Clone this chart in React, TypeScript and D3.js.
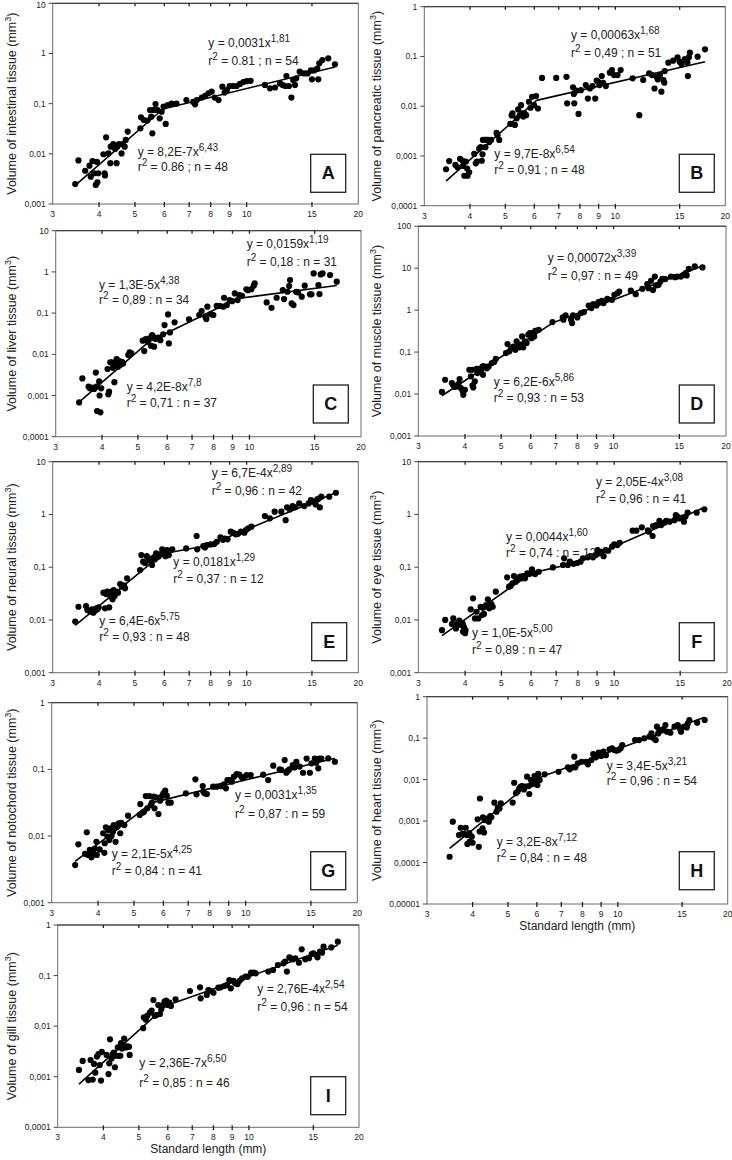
import * as d3 from 'd3';

type Pt = [number, number];

// ── Measured points: [standard length (mm), volume (mm3)] ──

const intestinal: Pt[] = [
  [3.45, 0.0025], [3.52, 0.0074], [3.67, 0.0046], [3.77, 0.0058], [3.8, 0.0035], [3.84, 0.0072],
  [3.88, 0.0041], [3.92, 0.0024], [3.95, 0.0069], [3.96, 0.0027], [3.98, 0.0041], [4.11, 0.0098],
  [4.14, 0.0041], [4.15, 0.0037], [4.18, 0.0213], [4.24, 0.0102], [4.29, 0.0065], [4.3, 0.0139],
  [4.37, 0.0157], [4.42, 0.0125], [4.46, 0.0065], [4.48, 0.0139], [4.53, 0.0157], [4.6, 0.0102],
  [4.64, 0.0157], [4.69, 0.0139], [4.72, 0.0189], [4.78, 0.0277], [5.17, 0.0322], [5.19, 0.0534],
  [5.28, 0.0472], [5.4, 0.046], [5.49, 0.0748], [5.53, 0.055], [5.57, 0.0256], [5.62, 0.075],
  [5.68, 0.0985], [5.74, 0.075], [5.83, 0.051], [5.9, 0.069], [5.97, 0.087], [6.05, 0.0394],
  [6.13, 0.094], [6.27, 0.1], [6.47, 0.1], [6.88, 0.118], [7.18, 0.108], [7.26, 0.097],
  [7.34, 0.118], [7.57, 0.132], [7.73, 0.143], [7.89, 0.161], [8.05, 0.174], [8.2, 0.132],
  [8.4, 0.118], [8.6, 0.218], [8.72, 0.166], [8.85, 0.187], [9.0, 0.225], [9.2, 0.225],
  [9.4, 0.225], [9.6, 0.247], [9.8, 0.27], [10.0, 0.28], [10.25, 0.285], [11.2, 0.236],
  [11.56, 0.202], [11.93, 0.21], [12.3, 0.253], [12.5, 0.236], [12.7, 0.225], [12.8, 0.356],
  [13.0, 0.225], [13.2, 0.132], [13.35, 0.296], [13.5, 0.236], [13.6, 0.32], [13.9, 0.434],
  [14.3, 0.4], [14.6, 0.4], [14.9, 0.46], [15.0, 0.305], [15.2, 0.46], [15.5, 0.5],
  [15.6, 0.305], [15.7, 0.637], [16.0, 0.74], [16.6, 0.8], [17.3, 0.61],
];

const pancreatic: Pt[] = [
  [3.44, 0.00054], [3.51, 0.00079], [3.65, 0.00066], [3.7, 0.00059], [3.76, 0.00087], [3.82, 0.0008],
  [3.83, 0.00063], [3.86, 0.0004], [3.9, 0.00077], [3.93, 0.00056], [3.94, 0.0004], [3.98, 0.00047],
  [4.11, 0.0011], [4.15, 0.00071], [4.18, 0.00077], [4.24, 0.0014], [4.28, 0.0015], [4.31, 0.0008],
  [4.33, 0.00108], [4.34, 0.0021], [4.4, 0.0021], [4.41, 0.0015], [4.43, 0.0021], [4.48, 0.0021],
  [4.52, 0.0019], [4.57, 0.0021], [4.73, 0.0029], [4.76, 0.0026], [4.81, 0.0021], [5.16, 0.0044],
  [5.2, 0.0065], [5.23, 0.0072], [5.31, 0.0042], [5.37, 0.0057], [5.42, 0.0086], [5.48, 0.0066],
  [5.52, 0.0105], [5.56, 0.0072], [5.6, 0.0062], [5.64, 0.0072], [5.7, 0.0066], [5.8, 0.0123],
  [5.86, 0.0093], [5.92, 0.0155], [5.99, 0.0105], [6.07, 0.016], [6.14, 0.009], [6.3, 0.037],
  [6.89, 0.037], [7.35, 0.039], [7.38, 0.0114], [7.66, 0.024], [7.7, 0.0176], [7.72, 0.0114],
  [7.82, 0.0205], [7.93, 0.007], [8.05, 0.021], [8.3, 0.0266], [8.41, 0.0142], [8.52, 0.0227],
  [8.66, 0.0254], [8.81, 0.0142], [8.89, 0.0326], [8.97, 0.031], [9.05, 0.0266], [9.18, 0.0404],
  [9.26, 0.0296], [9.42, 0.0254], [9.66, 0.0471], [9.79, 0.0533], [9.92, 0.0423], [10.14, 0.0423],
  [10.34, 0.0533], [11.15, 0.0363], [11.63, 0.0066], [11.92, 0.0336], [12.38, 0.0457], [12.6, 0.0423],
  [12.8, 0.0227], [12.97, 0.039], [13.07, 0.0346], [13.25, 0.0423], [13.37, 0.0196], [13.54, 0.0336],
  [13.62, 0.0296], [13.65, 0.0509], [13.97, 0.0749], [14.4, 0.0822], [14.8, 0.096], [15.0, 0.0784],
  [15.18, 0.07], [15.5, 0.0887], [15.75, 0.076], [15.8, 0.0404], [15.9, 0.096], [16.0, 0.119],
  [16.8, 0.099], [17.6, 0.139],
];

const liver: Pt[] = [
  [3.47, 0.00068], [3.54, 0.0026], [3.68, 0.00164], [3.71, 0.00149], [3.77, 0.00155], [3.81, 0.00144],
  [3.85, 0.0036], [3.87, 0.00164], [3.88, 0.00042], [3.93, 0.0022], [3.94, 0.001], [3.96, 0.00039],
  [3.98, 0.00149], [4.14, 0.0044], [4.16, 0.00107], [4.18, 0.00124], [4.21, 0.0064], [4.25, 0.0064],
  [4.28, 0.0047], [4.3, 0.0055], [4.32, 0.0021], [4.38, 0.0077], [4.39, 0.0064], [4.42, 0.005],
  [4.44, 0.0069], [4.48, 0.0055], [4.53, 0.0066], [4.56, 0.006], [4.71, 0.0096], [4.75, 0.0111],
  [4.8, 0.0105], [5.15, 0.0214], [5.2, 0.012], [5.25, 0.0235], [5.32, 0.0203], [5.37, 0.0245],
  [5.42, 0.0162], [5.46, 0.0294], [5.5, 0.027], [5.53, 0.0153], [5.58, 0.0235], [5.64, 0.0251],
  [5.69, 0.0255], [5.75, 0.022], [5.85, 0.0305], [5.9, 0.0513], [6.03, 0.093], [6.06, 0.0184],
  [6.1, 0.034], [6.28, 0.0596], [6.87, 0.0705], [7.32, 0.0898], [7.43, 0.112], [7.6, 0.0818],
  [7.65, 0.0715], [7.7, 0.143], [7.86, 0.094], [7.99, 0.09], [8.16, 0.149], [8.3, 0.149],
  [8.5, 0.143], [8.54, 0.236], [8.69, 0.157], [8.83, 0.207], [8.98, 0.195], [9.13, 0.301],
  [9.29, 0.207], [9.4, 0.275], [9.55, 0.264], [9.81, 0.377], [9.91, 0.36], [10.12, 0.38],
  [10.27, 0.462], [10.33, 0.527], [11.13, 0.182], [11.47, 0.135], [11.84, 0.236], [12.3, 0.363],
  [12.4, 0.219], [12.66, 0.33], [12.8, 0.454], [12.87, 0.635], [13.0, 0.172], [13.15, 0.157],
  [13.36, 0.33], [13.53, 0.318], [13.84, 0.25], [14.1, 0.462], [14.57, 0.285], [14.7, 0.285],
  [14.9, 0.92], [15.35, 0.48], [15.45, 0.29], [15.57, 0.87], [15.75, 0.92], [16.5, 0.84],
  [17.2, 0.578],
];

const muscle: Pt[] = [
  [3.47, 0.0112], [3.54, 0.0219], [3.69, 0.0183], [3.72, 0.0161], [3.76, 0.0147], [3.8, 0.0154],
  [3.84, 0.0173], [3.87, 0.0228], [3.9, 0.0139], [3.94, 0.012], [3.96, 0.0096], [4.0, 0.0126],
  [4.11, 0.0379], [4.15, 0.0264], [4.18, 0.0379], [4.19, 0.0161], [4.21, 0.0144], [4.25, 0.02],
  [4.3, 0.0401], [4.32, 0.0316], [4.37, 0.0401], [4.41, 0.0347], [4.46, 0.0456], [4.47, 0.0289],
  [4.5, 0.0456], [4.54, 0.043], [4.58, 0.041], [4.63, 0.0456], [4.72, 0.0547], [4.79, 0.058],
  [4.84, 0.0694], [5.15, 0.0947], [5.2, 0.155], [5.26, 0.104], [5.32, 0.124], [5.39, 0.136],
  [5.46, 0.113], [5.5, 0.18], [5.55, 0.145], [5.6, 0.13], [5.65, 0.15], [5.69, 0.236],
  [5.73, 0.13], [5.79, 0.18], [5.85, 0.165], [5.91, 0.259], [5.97, 0.283], [6.03, 0.215],
  [6.07, 0.283], [6.13, 0.236], [6.17, 0.322], [6.3, 0.34], [6.86, 0.518], [7.31, 0.669],
  [7.34, 0.59], [7.44, 0.746], [7.69, 0.59], [7.74, 0.49], [7.79, 0.746], [8.0, 0.669],
  [8.18, 0.85], [8.33, 0.9], [8.58, 1.29], [8.72, 1.12], [8.82, 1.39], [9.0, 1.29],
  [9.11, 1.55], [9.3, 1.67], [9.4, 1.47], [9.62, 1.86], [9.9, 1.76], [10.05, 2.32],
  [10.25, 2.54], [10.35, 2.78], [11.12, 2.9], [11.46, 2.4], [11.94, 3.22], [12.31, 4.16],
  [12.4, 3.34], [12.6, 5.0], [12.75, 3.0], [12.9, 6.3], [12.98, 3.87], [13.2, 4.0],
  [13.35, 4.8], [13.5, 5.57], [13.76, 5.5], [14.25, 6.3], [14.6, 6.1], [14.8, 6.3],
  [15.15, 6.3], [15.38, 6.9], [15.6, 7.6], [15.7, 6.7], [15.9, 9.6], [16.5, 11.0],
  [17.3, 10.4],
];

const neural: Pt[] = [
  [3.45, 0.0093], [3.52, 0.0178], [3.69, 0.0184], [3.72, 0.0154], [3.77, 0.0149], [3.8, 0.0143],
  [3.83, 0.0159], [3.86, 0.0137], [3.9, 0.0149], [3.93, 0.0166], [3.96, 0.0159], [3.99, 0.0173],
  [4.11, 0.0329], [4.15, 0.0166], [4.18, 0.031], [4.21, 0.0343], [4.26, 0.0173], [4.3, 0.0276],
  [4.32, 0.0343], [4.35, 0.0246], [4.38, 0.0369], [4.41, 0.0288], [4.45, 0.0343], [4.5, 0.0329],
  [4.56, 0.048], [4.61, 0.0427], [4.67, 0.0453], [4.7, 0.0397], [4.76, 0.0614], [5.16, 0.0883],
  [5.2, 0.17], [5.26, 0.127], [5.32, 0.12], [5.38, 0.162], [5.44, 0.147], [5.5, 0.131],
  [5.56, 0.11], [5.62, 0.154], [5.65, 0.14], [5.7, 0.183], [5.74, 0.154], [5.8, 0.162],
  [5.86, 0.177], [5.92, 0.218], [5.98, 0.196], [6.04, 0.162], [6.1, 0.211], [6.17, 0.17],
  [6.3, 0.218], [6.87, 0.227], [7.33, 0.39], [7.36, 0.218], [7.64, 0.252], [7.72, 0.237],
  [7.81, 0.263], [8.0, 0.27], [8.18, 0.275], [8.31, 0.304], [8.5, 0.368], [8.63, 0.33],
  [8.73, 0.35], [8.88, 0.337], [9.06, 0.471], [9.21, 0.45], [9.35, 0.42], [9.48, 0.43],
  [9.65, 0.471], [9.86, 0.45], [9.96, 0.507], [10.1, 0.545], [10.3, 0.586], [11.2, 0.933],
  [11.55, 0.843], [11.9, 1.13], [12.4, 1.13], [12.74, 0.78], [12.85, 1.36], [13.07, 1.24],
  [13.3, 1.44], [13.5, 1.36], [13.86, 1.62], [14.3, 1.44], [14.7, 1.62], [14.9, 1.88],
  [15.1, 1.75], [15.35, 1.55], [15.5, 1.93], [15.65, 2.0], [15.75, 1.36], [15.9, 2.17],
  [16.7, 2.17], [17.4, 2.58],
];

const eye: Pt[] = [
  [3.47, 0.0064], [3.54, 0.01], [3.69, 0.0084], [3.72, 0.0107], [3.78, 0.0069], [3.82, 0.0086],
  [3.86, 0.0097], [3.9, 0.008], [3.94, 0.0086], [3.95, 0.006], [3.97, 0.0074], [4.0, 0.0056],
  [4.01, 0.0064], [4.14, 0.0159], [4.2, 0.0257], [4.25, 0.0107], [4.29, 0.0143], [4.34, 0.0107],
  [4.4, 0.0178], [4.44, 0.0124], [4.46, 0.017], [4.49, 0.013], [4.52, 0.0178], [4.55, 0.0192],
  [4.6, 0.0246], [4.64, 0.0166], [4.7, 0.02], [4.74, 0.0178], [4.83, 0.0343], [5.18, 0.0642],
  [5.24, 0.0427], [5.29, 0.044], [5.35, 0.0494], [5.4, 0.068], [5.46, 0.0531], [5.52, 0.057],
  [5.58, 0.0614], [5.61, 0.066], [5.67, 0.0614], [5.71, 0.068], [5.78, 0.0614], [5.86, 0.0764],
  [5.94, 0.074], [6.03, 0.091], [6.09, 0.0785], [6.15, 0.074], [6.29, 0.082], [6.86, 0.099],
  [7.3, 0.11], [7.35, 0.147], [7.52, 0.11], [7.61, 0.127], [7.65, 0.12], [7.79, 0.116],
  [7.96, 0.12], [8.13, 0.127], [8.25, 0.147], [8.5, 0.154], [8.63, 0.162], [8.78, 0.154],
  [8.93, 0.17], [9.03, 0.211], [9.13, 0.183], [9.23, 0.196], [9.37, 0.162], [9.49, 0.211],
  [9.64, 0.205], [9.87, 0.245], [10.0, 0.271], [10.2, 0.263], [10.34, 0.291], [11.2, 0.492],
  [11.46, 0.492], [11.85, 0.569], [12.3, 0.5], [12.37, 0.471], [12.66, 0.39], [12.7, 0.603],
  [12.93, 0.63], [13.2, 0.76], [13.35, 0.63], [13.63, 0.7], [13.77, 0.76], [14.06, 0.73],
  [14.47, 0.78], [14.6, 0.975], [14.75, 0.91], [14.9, 0.84], [15.2, 0.87], [15.35, 0.73],
  [15.5, 0.91], [15.7, 1.08], [16.6, 1.08], [17.4, 1.25],
];

const notochord: Pt[] = [
  [3.47, 0.00367], [3.54, 0.0075], [3.69, 0.0054], [3.73, 0.0114], [3.76, 0.0052], [3.8, 0.0062],
  [3.84, 0.0048], [3.88, 0.0055], [3.92, 0.0065], [3.96, 0.0082], [3.97, 0.0052], [4.04, 0.0063],
  [4.13, 0.011], [4.16, 0.0056], [4.17, 0.0078], [4.2, 0.0135], [4.24, 0.0098], [4.26, 0.0123],
  [4.29, 0.0087], [4.32, 0.013], [4.35, 0.01], [4.39, 0.0116], [4.41, 0.0146], [4.44, 0.0133],
  [4.46, 0.0082], [4.5, 0.0138], [4.55, 0.0155], [4.59, 0.011], [4.62, 0.0158], [4.71, 0.0146],
  [4.82, 0.0202], [5.18, 0.0207], [5.2, 0.0302], [5.27, 0.0224], [5.32, 0.0231], [5.38, 0.0398],
  [5.43, 0.026], [5.5, 0.0398], [5.55, 0.0292], [5.59, 0.0316], [5.64, 0.0389], [5.68, 0.026],
  [5.74, 0.038], [5.82, 0.0214], [5.88, 0.0339], [5.95, 0.0398], [6.0, 0.0437], [6.07, 0.0479],
  [6.13, 0.0403], [6.19, 0.0316], [6.28, 0.0316], [6.9, 0.0437], [7.32, 0.0708], [7.37, 0.0422],
  [7.66, 0.0562], [7.69, 0.0462], [7.75, 0.0437], [7.86, 0.0427], [8.17, 0.055], [8.35, 0.055],
  [8.53, 0.0562], [8.62, 0.0562], [8.74, 0.0596], [8.85, 0.0519], [8.93, 0.0692], [9.05, 0.0692],
  [9.18, 0.0653], [9.3, 0.0776], [9.46, 0.0851], [9.62, 0.0832], [9.76, 0.0759], [9.9, 0.0759],
  [10.06, 0.0822], [10.32, 0.0822], [11.15, 0.0832], [11.5, 0.0692], [11.87, 0.1135], [12.35, 0.1],
  [12.48, 0.098], [12.74, 0.138], [12.87, 0.089], [13.0, 0.0955], [13.13, 0.1], [13.4, 0.116],
  [13.55, 0.107], [13.7, 0.13], [13.98, 0.11], [14.28, 0.089], [14.6, 0.145], [14.9, 0.089],
  [15.05, 0.123], [15.36, 0.145], [15.5, 0.126], [15.7, 0.1035], [15.8, 0.145], [16.0, 0.145],
  [16.7, 0.146], [17.4, 0.13],
];

const heart: Pt[] = [
  [3.46, 0.000138], [3.53, 0.00097], [3.67, 0.00046], [3.71, 0.00069], [3.75, 0.00049], [3.79, 0.00049],
  [3.83, 0.00069], [3.86, 0.00046], [3.87, 0.00028], [3.92, 0.00051], [3.93, 0.00032], [3.98, 0.00042],
  [4.0, 0.0003], [4.13, 0.0011], [4.16, 0.00024], [4.18, 0.00056], [4.19, 0.0035], [4.26, 0.00067],
  [4.27, 0.00123], [4.3, 0.00053], [4.32, 0.00106], [4.38, 0.00115], [4.43, 0.00097], [4.47, 0.00132],
  [4.5, 0.00123], [4.59, 0.00278], [4.65, 0.00169], [4.69, 0.0021], [4.74, 0.002], [4.78, 0.00268],
  [5.15, 0.0028], [5.2, 0.0084], [5.26, 0.0047], [5.31, 0.0051], [5.37, 0.0062], [5.42, 0.0068],
  [5.47, 0.007], [5.53, 0.0058], [5.59, 0.0068], [5.64, 0.0118], [5.7, 0.007], [5.72, 0.0045],
  [5.78, 0.0098], [5.84, 0.0078], [5.91, 0.0122], [5.96, 0.0098], [6.02, 0.0074], [6.05, 0.0137],
  [6.11, 0.0098], [6.3, 0.0134], [6.88, 0.0155], [7.3, 0.0198], [7.38, 0.0177], [7.52, 0.0198],
  [7.6, 0.0357], [7.65, 0.0198], [7.77, 0.0247], [7.96, 0.027], [8.18, 0.027], [8.28, 0.0234],
  [8.47, 0.0297], [8.56, 0.0414], [8.71, 0.0344], [8.86, 0.0447], [9.0, 0.0373], [9.13, 0.0472],
  [9.28, 0.0389], [9.49, 0.0537], [9.64, 0.0568], [9.78, 0.0518], [9.92, 0.05], [10.04, 0.0518],
  [10.18, 0.0568], [10.28, 0.0683], [11.15, 0.09], [11.43, 0.09], [11.82, 0.099], [12.2, 0.108],
  [12.36, 0.13], [12.53, 0.099], [12.7, 0.09], [12.8, 0.189], [12.9, 0.13], [13.0, 0.157],
  [13.3, 0.163], [13.5, 0.207], [13.63, 0.143], [13.93, 0.135], [14.3, 0.189], [14.6, 0.207],
  [14.82, 0.163], [14.9, 0.143], [15.2, 0.189], [15.45, 0.182], [15.55, 0.227], [15.7, 0.274],
  [16.5, 0.236], [17.3, 0.274],
];

const gill: Pt[] = [
  [3.43, 0.00136], [3.51, 0.00205], [3.64, 0.00086], [3.69, 0.00214], [3.74, 0.00088], [3.77, 0.00179],
  [3.8, 0.0012], [3.84, 0.0025], [3.88, 0.0028], [3.91, 0.0017], [3.94, 0.00084], [3.96, 0.0031],
  [4.08, 0.0027], [4.13, 0.00113], [4.15, 0.00184], [4.17, 0.0055], [4.21, 0.0023], [4.24, 0.0028],
  [4.27, 0.003], [4.3, 0.00154], [4.34, 0.0026], [4.38, 0.0038], [4.41, 0.0026], [4.45, 0.0026],
  [4.47, 0.0046], [4.5, 0.0036], [4.54, 0.0042], [4.56, 0.0057], [4.61, 0.0038], [4.66, 0.004],
  [4.7, 0.0039], [4.72, 0.0027], [5.14, 0.0091], [5.16, 0.015], [5.22, 0.0135], [5.27, 0.0159],
  [5.36, 0.0185], [5.42, 0.0203], [5.48, 0.0329], [5.53, 0.0159], [5.59, 0.0166], [5.65, 0.0262],
  [5.71, 0.0174], [5.76, 0.0215], [5.82, 0.0262], [5.88, 0.0305], [5.94, 0.032], [6.0, 0.0262],
  [6.06, 0.0291], [6.12, 0.025], [6.3, 0.034], [6.9, 0.0496], [7.35, 0.0586], [7.38, 0.0355],
  [7.67, 0.0413], [7.75, 0.0519], [7.84, 0.05], [8.0, 0.0458], [8.25, 0.0577], [8.38, 0.0586],
  [8.56, 0.0622], [8.71, 0.0654], [8.84, 0.0818], [8.92, 0.056], [9.07, 0.079], [9.17, 0.0703],
  [9.31, 0.068], [9.43, 0.079], [9.58, 0.0882], [9.78, 0.0952], [9.93, 0.0952], [10.14, 0.114],
  [10.32, 0.114], [10.44, 0.111], [11.3, 0.12], [11.64, 0.129], [12.0, 0.162], [12.43, 0.175],
  [12.56, 0.188], [12.7, 0.12], [12.9, 0.23], [13.02, 0.22], [13.2, 0.21], [13.4, 0.22],
  [13.7, 0.18], [13.94, 0.33], [14.26, 0.21], [14.6, 0.22], [14.85, 0.267], [15.0, 0.275],
  [15.27, 0.255], [15.4, 0.23], [15.65, 0.297], [15.85, 0.284], [16.0, 0.373], [16.8, 0.36],
  [17.5, 0.468],
];

// ── Regression equations printed on each panel (y = a·x^b), in order of increasing length ──

interface Fit {
  a: number;
  b: number;
}

const intestinalFits: Fit[] = [{ a: 8.2e-7, b: 6.43 }, { a: 0.0031, b: 1.81 }];
const pancreaticFits: Fit[] = [{ a: 9.7e-8, b: 6.54 }, { a: 0.00063, b: 1.68 }];
const liverFits: Fit[] = [{ a: 4.2e-8, b: 7.8 }, { a: 1.3e-5, b: 4.38 }, { a: 0.0159, b: 1.19 }];
const muscleFits: Fit[] = [{ a: 6.2e-6, b: 5.86 }, { a: 0.00072, b: 3.39 }];
const neuralFits: Fit[] = [{ a: 6.4e-6, b: 5.75 }, { a: 0.0181, b: 1.29 }, { a: 6.7e-4, b: 2.89 }];
const eyeFits: Fit[] = [{ a: 1.0e-5, b: 5.0 }, { a: 0.0044, b: 1.6 }, { a: 2.05e-4, b: 3.08 }];
const notochordFits: Fit[] = [{ a: 2.1e-5, b: 4.25 }, { a: 0.0031, b: 1.35 }];
const heartFits: Fit[] = [{ a: 3.2e-8, b: 7.12 }, { a: 3.4e-5, b: 3.21 }];
const gillFits: Fit[] = [{ a: 2.36e-7, b: 6.5 }, { a: 2.76e-4, b: 2.54 }];

const xTicks = [3, 4, 5, 6, 7, 8, 9, 10, 15, 20];

// ── Panel layout ──

interface Note {
  x: number;
  y: number;
  gap: number;
  eq: string;
  exp: string;
  r2: string;
}

interface PanelSpec {
  letter: string;
  title: string;
  data: Pt[];
  fits: Fit[];
  yDomain: [number, number];
  left: number;
  right: number;
  top: number;
  bottom: number;
  titleX: number;
  box: [number, number];
  notes: Note[];
  xTitle?: boolean;
}

const FONT = "Arial, 'Liberation Sans', sans-serif";

const panels: PanelSpec[] = [
  {
    letter: 'A', title: 'Volume of intestinal tissue', data: intestinal, fits: intestinalFits,
    yDomain: [0.001, 10], left: 52.7, right: 358.3, top: 3.3, bottom: 204, titleX: 12, box: [310.7, 154.3],
    notes: [
      { x: 208.3, y: 47.3, gap: 17.7, eq: 'y = 0,0031x', exp: '1,81', r2: ' = 0.81 ; n = 54' },
      { x: 137.7, y: 156, gap: 15, eq: 'y = 8,2E-7x', exp: '6,43', r2: ' = 0.86 ; n = 48' },
    ],
  },
  {
    letter: 'B', title: 'Volume of pancreatic tissue', data: pancreatic, fits: pancreaticFits,
    yDomain: [0.0001, 1], left: 424.3, right: 725.3, top: 6.7, bottom: 205.7, titleX: 377, box: [679.3, 154.3],
    notes: [
      { x: 571, y: 38.5, gap: 18, eq: 'y = 0,00063x', exp: '1,68', r2: ' = 0,49 ; n = 51' },
      { x: 494.3, y: 158.3, gap: 16, eq: 'y = 9,7E-8x', exp: '6,54', r2: ' = 0,91 ; n = 48' },
    ],
  },
  {
    letter: 'C', title: 'Volume of liver tissue', data: liver, fits: liverFits,
    yDomain: [0.0001, 10], left: 55.7, right: 361, top: 230.7, bottom: 436.7, titleX: 12, box: [313.3, 385],
    notes: [
      { x: 246.7, y: 248.3, gap: 17.4, eq: 'y = 0,0159x', exp: '1,19', r2: ' = 0,18 : n = 31' },
      { x: 99, y: 289, gap: 15.2, eq: 'y = 1,3E-5x', exp: '4,38', r2: ' = 0,89 : n = 34' },
      { x: 126.7, y: 391, gap: 15.5, eq: 'y = 4,2E-8x', exp: '7,8', r2: ' = 0,71 : n = 37' },
    ],
  },
  {
    letter: 'D', title: 'Volume of muscle tissue', data: muscle, fits: muscleFits,
    yDomain: [0.001, 100], left: 418.3, right: 726, top: 226.2, bottom: 436, titleX: 377, box: [679.3, 385],
    notes: [
      { x: 547.7, y: 261.7, gap: 18.3, eq: 'y = 0,00072x', exp: '3,39', r2: ' = 0,97 : n = 49' },
      { x: 493.7, y: 385.7, gap: 16.6, eq: 'y = 6,2E-6x', exp: '5,86', r2: ' = 0,93 : n = 53' },
    ],
  },
  {
    letter: 'E', title: 'Volume of neural tissue', data: neural, fits: neuralFits,
    yDomain: [0.001, 10], left: 52.7, right: 358.3, top: 461.7, bottom: 672.7, titleX: 12, box: [311.7, 622.7],
    notes: [
      { x: 211.7, y: 477.3, gap: 17.7, eq: 'y = 6,7E-4x', exp: '2,89', r2: ' = 0,96 : n = 42' },
      { x: 173.3, y: 566, gap: 16.7, eq: 'y = 0,0181x', exp: '1,29', r2: ' = 0,37 : n = 12' },
      { x: 99.3, y: 625, gap: 15.7, eq: 'y = 6,4E-6x', exp: '5,75', r2: ' = 0,93 : n = 48' },
    ],
  },
  {
    letter: 'F', title: 'Volume of eye tissue', data: eye, fits: eyeFits,
    yDomain: [0.001, 10], left: 418.3, right: 727, top: 461.7, bottom: 672.7, titleX: 377, box: [679.3, 622.7],
    notes: [
      { x: 596, y: 486, gap: 17.3, eq: 'y = 2,05E-4x', exp: '3,08', r2: ' = 0,96 : n = 41' },
      { x: 506, y: 540.7, gap: 16, eq: 'y = 0,0044x', exp: '1,60', r2: ' = 0,74 : n = 12' },
      { x: 472, y: 637.3, gap: 16.7, eq: 'y = 1,0E-5x', exp: '5,00', r2: ' = 0,89 : n = 47' },
    ],
  },
  {
    letter: 'G', title: 'Volume of notochord tissue', data: notochord, fits: notochordFits,
    yDomain: [0.001, 1], left: 51.7, right: 357.3, top: 702.7, bottom: 902.7, titleX: 12, box: [310.7, 851.7],
    notes: [
      { x: 235, y: 799.3, gap: 19, eq: 'y = 0,0031x', exp: '1,35', r2: ' = 0,87 : n = 59' },
      { x: 111.7, y: 858.3, gap: 16.7, eq: 'y = 2,1E-5x', exp: '4,25', r2: ' = 0,84 : n = 41' },
    ],
  },
  {
    letter: 'H', title: 'Volume of heart tissue', data: heart, fits: heartFits,
    yDomain: [0.00001, 1], left: 427, right: 727.7, top: 696.7, bottom: 904, titleX: 377, box: [679.3, 851.7],
    notes: [
      { x: 606.7, y: 769.5, gap: 15.5, eq: 'y = 3,4E-5x', exp: '3,21', r2: ' = 0,96 : n = 54' },
      { x: 496.7, y: 846.2, gap: 15.5, eq: 'y = 3,2E-8x', exp: '7,12', r2: ' = 0,84 : n = 48' },
    ],
    xTitle: true,
  },
  {
    letter: 'I', title: 'Volume of gill tissue', data: gill, fits: gillFits,
    yDomain: [0.0001, 1], left: 57.7, right: 359, top: 925, bottom: 1127.3, titleX: 12, box: [310.7, 1076.7],
    notes: [
      { x: 257.3, y: 992.7, gap: 18.3, eq: 'y = 2,76E-4x', exp: '2,54', r2: ' = 0,96 : n = 54' },
      { x: 139.3, y: 1066.7, gap: 20, eq: 'y = 2,36E-7x', exp: '6,50', r2: ' = 0,85 : n = 46' },
    ],
    xTitle: true,
  },
];

// 0.001 -> "0,001" (decimal comma, as in the original figure)
function fmtDecade(k: number): string {
  return k >= 0 ? String(10 ** k) : '0,' + '0'.repeat(-k - 1) + '1';
}

function Panel({ p }: { p: PanelSpec }) {
  const x = d3.scaleLog().domain([3, 20]).range([p.left, p.right]);
  const y = d3.scaleLog().domain(p.yDomain).range([p.bottom, p.top]);
  const k0 = Math.round(Math.log10(p.yDomain[0]));
  const k1 = Math.round(Math.log10(p.yDomain[1]));
  const decades = d3.range(k0, k1 + 1);

  // piecewise power-law fit: each segment runs between neighbouring intersections
  const [xMin, xMax] = d3.extent(p.data, (d) => d[0]) as [number, number];
  const bounds = [xMin];
  for (let i = 0; i < p.fits.length - 1; i++) {
    const f = p.fits[i];
    const g = p.fits[i + 1];
    bounds.push(Math.pow(f.a / g.a, 1 / (g.b - f.b)));
  }
  bounds.push(xMax);
  const segments = p.fits.map((f, i) =>
    d3
      .line<number>()
      .x((v) => x(v))
      .y((v) => y(f.a * Math.pow(v, f.b)))([bounds[i], bounds[i + 1]]),
  );

  const midY = (p.top + p.bottom) / 2;
  const [bx, by] = p.box;

  return (
    <g>
      {/* frame */}
      <rect x={p.left} y={p.top} width={p.right - p.left} height={p.bottom - p.top} fill="none" stroke="#6b6b6b" strokeWidth={1} />
      <line x1={p.left} x2={p.right} y1={p.top} y2={p.top} stroke="#333" strokeWidth={1} />

      {/* y ticks */}
      {decades.map((k) => (
        <g key={k}>
          <line x1={p.left - 4} x2={p.left} y1={y(10 ** k)} y2={y(10 ** k)} stroke="#444" />
          <text
            x={p.left - 7}
            y={Math.max(y(10 ** k) + 3, 8)}
            textAnchor="end"
            fontSize={8.5}
            fontFamily={FONT}
            fill="#222"
          >
            {fmtDecade(k)}
          </text>
        </g>
      ))}

      {/* x ticks */}
      {xTicks.map((t) => (
        <g key={t}>
          {t > 3 && t < 20 && (
            <>
              <line x1={x(t)} x2={x(t)} y1={p.bottom - 2} y2={p.bottom + 3} stroke="#222" strokeWidth={1.3} />
              <line x1={x(t)} x2={x(t)} y1={p.top} y2={p.top + 3} stroke="#222" strokeWidth={1.3} />
            </>
          )}
          <text x={x(t)} y={p.bottom + 13} textAnchor="middle" fontSize={8.5} fontFamily={FONT} fill="#222">
            {t}
          </text>
        </g>
      ))}

      {/* y title */}
      <text
        transform={`translate(${p.titleX},${midY}) rotate(-90)`}
        textAnchor="middle"
        dy="0.35em"
        fontSize={12.5}
        fontFamily={FONT}
        fill="#222"
      >
        {p.title} (mm<tspan dy={-5} fontSize={9}>3</tspan>
        <tspan dy={5}>)</tspan>
      </text>

      {/* points */}
      {p.data.map((d, i) => (
        <circle key={i} cx={x(d[0])} cy={y(d[1])} r={3.1} fill="#000" />
      ))}

      {/* fitted lines */}
      {segments.map((s, i) => (
        <path key={i} d={s ?? ''} fill="none" stroke="#000" strokeWidth={1.6} />
      ))}

      {/* equations */}
      {p.notes.map((n, i) => (
        <g key={i} fontFamily={FONT} fill="#222">
          <text x={n.x} y={n.y} fontSize={12}>
            {n.eq}
            <tspan dy={-5} fontSize={10}>{n.exp}</tspan>
          </text>
          <text x={n.x} y={n.y + n.gap} fontSize={12}>
            r<tspan dy={-5} fontSize={10}>2</tspan>
            <tspan dy={5}>{n.r2}</tspan>
          </text>
        </g>
      ))}

      {/* panel letter */}
      <rect x={bx} y={by} width={35} height={38} fill="#fff" stroke="#222" strokeWidth={1.3} />
      <text x={bx + 17.5} y={by + 25} textAnchor="middle" fontSize={18} fontWeight="bold" fontFamily={FONT} fill="#111">
        {p.letter}
      </text>

      {p.xTitle && (
        <text x={(p.left + p.right) / 2} y={p.bottom + 26} textAnchor="middle" fontSize={12} fontFamily={FONT} fill="#222">
          Standard length (mm)
        </text>
      )}
    </g>
  );
}

export default function App() {
  return (
    <svg
      width={732}
      height={1160}
      style={{ position: 'absolute', left: 0, top: 0, background: '#fff', display: 'block' }}
    >
      <rect width={732} height={1160} fill="#fff" />
      {panels.map((p) => (
        <Panel key={p.letter} p={p} />
      ))}
    </svg>
  );
}
